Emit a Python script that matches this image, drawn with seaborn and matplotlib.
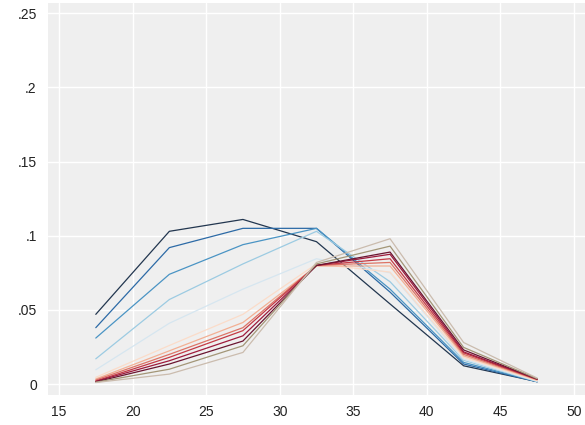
import pandas as pd
import matplotlib.pyplot as plt
import seaborn as sns

ages = [17.5, 22.5, 27.5, 32.5, 37.5, 42.5, 47.5]

groups = ['g01', 'g02', 'g03', 'g04', 'g05', 'g06', 'g07',
          'g08', 'g09', 'g10', 'g11', 'g12', 'g13']

shares = [
    [0.047, 0.103, 0.111, 0.096, 0.054, 0.0123, 0.0016],
    [0.038, 0.092, 0.105, 0.105, 0.062, 0.0135, 0.0015],
    [0.031, 0.074, 0.094, 0.105, 0.064, 0.0146, 0.0016],
    [0.017, 0.057, 0.081, 0.103, 0.069, 0.016, 0.0017],
    [0.0096, 0.041, 0.064, 0.0845, 0.075, 0.0168, 0.0018],
    [0.0045, 0.026, 0.047, 0.081, 0.0755, 0.018, 0.0022],
    [0.0034, 0.0224, 0.0415, 0.0796, 0.0796, 0.019, 0.0027],
    [0.0027, 0.020, 0.038, 0.080, 0.082, 0.020, 0.003],
    [0.002, 0.018, 0.036, 0.080, 0.0845, 0.021, 0.0031],
    [0.0018, 0.0157, 0.0325, 0.080, 0.0875, 0.0217, 0.0033],
    [0.0014, 0.0135, 0.029, 0.080, 0.089, 0.023, 0.0034],
    [0.0012, 0.010, 0.0258, 0.081, 0.093, 0.0247, 0.0036],
    [0.001, 0.0067, 0.0213, 0.082, 0.098, 0.028, 0.004],
]

colors = ['#22364f', '#2c6aa6', '#4a94c4', '#9ccbe2', '#d6e6f0',
          '#fbdcc9', '#f3b094', '#dd7466', '#c43a45', '#9e1a3c',
          '#6a1530', '#a39677', '#cbbcae']

rows = []
for g, vals in zip(groups, shares):
    for a, v in zip(ages, vals):
        rows.append({'age': a, 'share': v, 'group': g})
df = pd.DataFrame(rows)

sns.set_style('whitegrid')
plt.rcParams['font.family'] = ['Liberation Sans', 'DejaVu Sans']

fig = plt.figure(figsize=(5.85, 4.25), dpi=100)
ax = fig.add_axes([0.082, 0.0706, 0.918, 0.9224])
ax.set_facecolor('#efefef')

sns.lineplot(data=df, x='age', y='share', hue='group', palette=colors,
             legend=False, linewidth=0.9, ax=ax)

ax.set_xlim(14.25, 50.75)
ax.set_ylim(-0.0074, 0.257)
ax.set_xticks([15, 20, 25, 30, 35, 40, 45, 50])
ax.set_yticks([0, 0.05, 0.1, 0.15, 0.2, 0.25])
ax.set_yticklabels(['0', '.05', '.1', '.15', '.2', '.25'])
ax.grid(True, color='white', linewidth=1)
ax.tick_params(length=0, labelsize=10, colors='#222222')
ax.tick_params(axis='y', pad=8)
ax.tick_params(axis='x', pad=7)
ax.set_xlabel('')
ax.set_ylabel('')
for s in ax.spines.values():
    s.set_visible(False)

fig.savefig('out.png', dpi=100)
